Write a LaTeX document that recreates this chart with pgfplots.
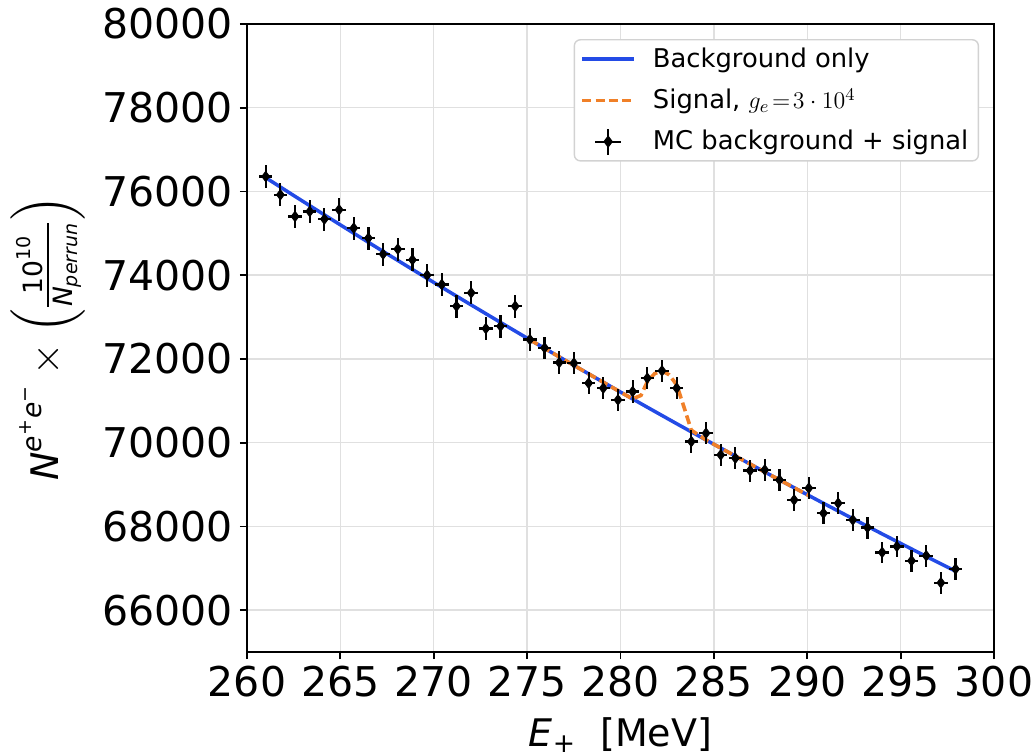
\documentclass[border=0pt]{standalone}
\usepackage{amsmath}
\usepackage{fontspec}
\setmainfont{DejaVu Sans}
\usepackage{pgfplots}
\usepackage{pgfplotstable}
\pgfplotsset{compat=1.18}
\definecolor{bgblue}{RGB}{35,75,230}
\definecolor{sigorange}{RGB}{240,128,40}
\definecolor{gridgray}{RGB}{224,224,224}

\pgfplotstableread{
x y ex ey
261.000 76358 0.36 276
261.786 75921 0.36 276
262.572 75403 0.36 275
263.358 75522 0.36 275
264.144 75340 0.36 274
264.930 75563 0.36 275
265.716 75125 0.36 274
266.502 74886 0.36 274
267.288 74504 0.36 273
268.074 74623 0.36 273
268.860 74367 0.36 273
269.646 74000 0.36 272
270.432 73778 0.36 272
271.218 73259 0.36 271
272.004 73579 0.36 271
272.790 72726 0.36 270
273.576 72781 0.36 270
274.362 73259 0.36 271
275.148 72463 0.36 269
275.934 72265 0.36 269
276.720 71914 0.36 268
277.506 71900 0.36 268
278.292 71422 0.36 267
279.078 71303 0.36 267
279.864 71022 0.36 267
280.650 71221 0.36 267
281.436 71541 0.36 267
282.222 71716 0.36 268
283.008 71303 0.36 267
283.794 70026 0.36 265
284.580 70227 0.36 265
285.366 69708 0.36 264
286.152 69630 0.36 264
286.938 69333 0.36 263
287.724 69350 0.36 263
288.510 69111 0.36 263
289.296 68633 0.36 262
290.082 68913 0.36 263
290.868 68315 0.36 261
291.654 68554 0.36 262
292.440 68155 0.36 261
293.226 67972 0.36 261
294.012 67379 0.36 260
294.798 67522 0.36 260
295.584 67180 0.36 259
296.370 67300 0.36 259
297.156 66653 0.36 258
297.942 66982 0.36 259
}\mcdata

\pgfplotstableread{
x y
261.000 76330
262.572 75883
264.144 75441
265.716 75002
267.288 74568
268.860 74137
270.432 73711
272.004 73290
273.576 72872
275.148 72458
276.720 72049
278.292 71644
279.864 71243
281.436 70846
283.008 70453
284.580 70064
286.152 69680
287.724 69300
289.296 68924
290.868 68552
292.440 68184
294.012 67820
295.584 67461
297.156 67106
297.942 66930
}\bgdata

\pgfplotstableread{
x y
275.148 72458
276.720 72049
278.292 71644
279.864 71243
280.650 71045
281.100 71130
281.440 71460
281.830 71650
282.220 71716
282.610 71620
283.010 71380
283.400 70850
283.790 70300
284.580 70064
285.366 69872
286.152 69680
287.724 69300
289.296 68924
290.082 68737
}\sigdata

\begin{document}
\begin{tikzpicture}
\begin{axis}[
  at={(0,0)}, anchor=south west,
  scale only axis, width=373.5bp, height=314bp,
  xmin=260, xmax=300, ymin=65000, ymax=80000,
  xtick={260,265,...,300}, ytick={66000,68000,...,80000},
  scaled ticks=false,
  /pgf/number format/1000 sep={},
  /pgf/number format/assume math mode=true,
  tick label style={font=\fontsize{20.5bp}{24bp}\selectfont, black},
  tick align=outside, major tick length=3.5bp,
  tick style={black, line width=0.9bp},
  tick pos=left,
  grid=major, major grid style={gridgray, line width=0.7bp},
  axis line style={black, line width=0.9bp},
  label style={font=\fontsize{19bp}{23bp}\selectfont},
  xlabel={$\text{\itshape E}_{\text{+}}$\ \ [MeV]},
  ylabel={$\text{\itshape N}^{\text{\itshape e}^{\text{+}}\text{\itshape e}^{\text{−}}}\times\left(\tfrac{\text{10}^{\text{10}}}{\text{\itshape N}_{\text{\itshape perrun}}}\right)$},
  xlabel style={at={(axis description cs:0.5,-0.1322)}, anchor=center},
  ylabel style={at={(axis description cs:-0.266,0.5)}, anchor=center, inner sep=0pt},
  legend cell align=left,
  legend image code/.code={\draw[#1] (0bp,0bp) -- (26bp,0bp);},
  legend style={at={(axis description cs:0.98,0.976)}, anchor=north east,
    draw=gray!35, rounded corners=3bp, fill=white, line width=0.7bp,
    font=\fontsize{12.9bp}{15bp}\selectfont,
    inner xsep=3bp, inner ysep=2bp, row sep=5.2bp,
    /tikz/every odd column/.append style={column sep=6.5bp}},
]
\addplot[bgblue, line width=1.75bp, no markers] table[x=x,y=y] {\bgdata};
\addlegendentry{Background only}
\addplot[sigorange, line width=1.8bp, dash pattern=on 4.5bp off 2.2bp, no markers] table[x=x,y=y] {\sigdata};
\addlegendentry{Signal, $g_e\!=\!3\cdot10^4$}
\addplot[black, only marks, mark=diamond*, mark size=2.6bp,
  legend image code/.code={
    \draw[black, line width=1.1bp] (6.5bp,0bp) -- (19.5bp,0bp) (13bp,-6.5bp) -- (13bp,6.5bp);
    \path[black, fill=black] plot[mark=diamond*, mark size=2.6bp, only marks] coordinates {(13bp,0bp)};
  },
  error bars/.cd, x dir=both, x explicit, y dir=both, y explicit,
  error mark=none, error bar style={line width=1.1bp, black}]
  table[x=x, y=y, x error=ex, y error=ey] {\mcdata};
\addlegendentry{MC background + signal}
\end{axis}
\pgfresetboundingbox
\path[use as bounding box] (-123.5bp,-52bp) rectangle (392.5bp,326bp);
\end{tikzpicture}
\end{document}
